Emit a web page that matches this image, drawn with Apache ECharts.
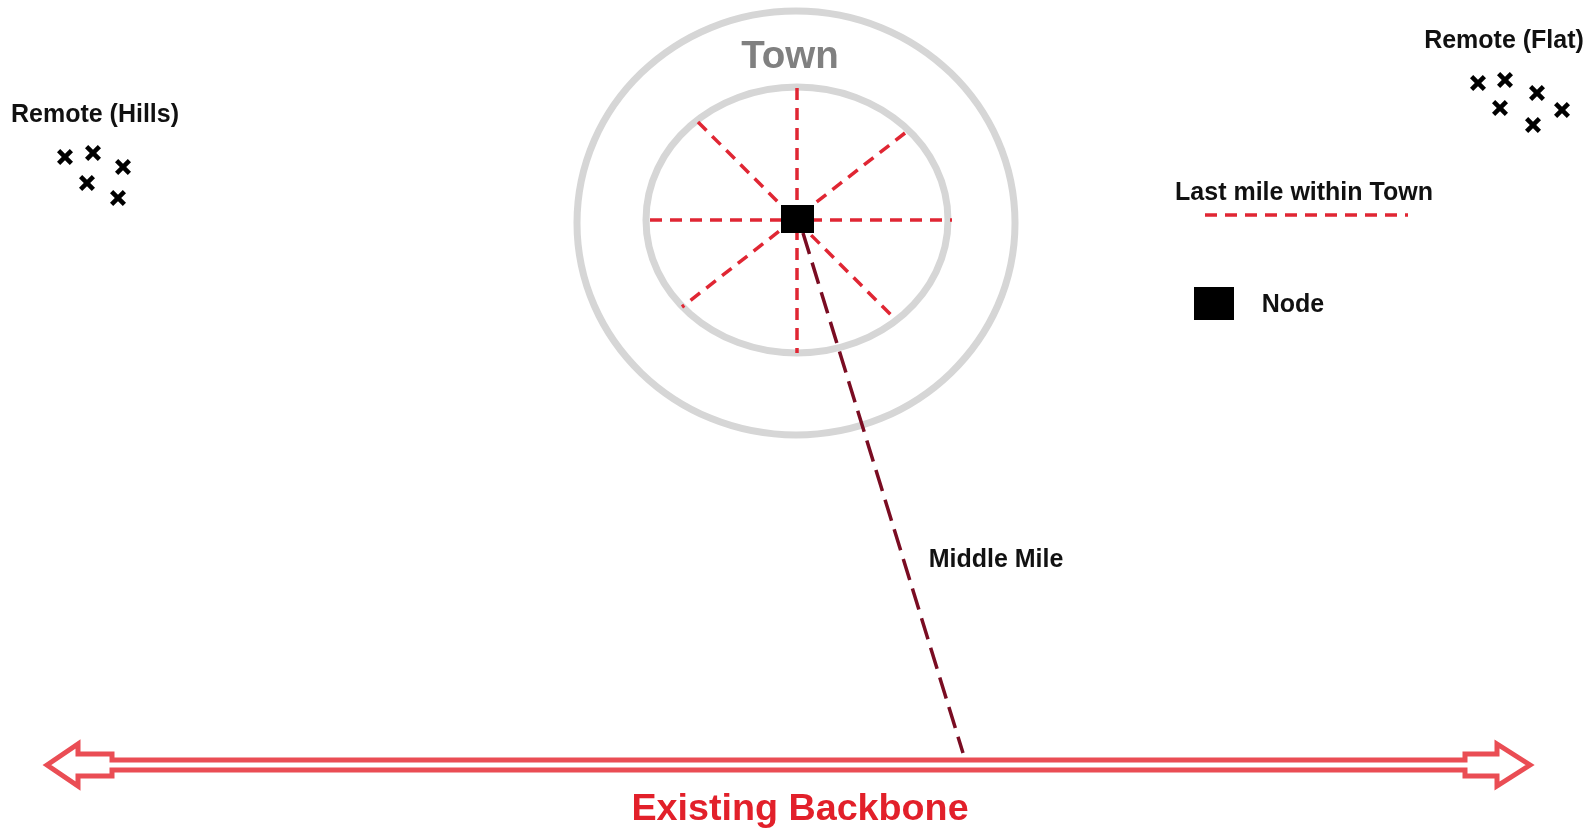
<!DOCTYPE html>
<html><head><meta charset="utf-8">
<script src="https://cdn.jsdelivr.net/npm/echarts@6/dist/echarts.min.js"></script>
<style>html,body{margin:0;padding:0;background:#fff}#c{width:1595px;height:829px}</style>
</head><body><div id="c"></div>
<script>
// Diagram data in a pixel-like data space (x: 0..1595, y: 0..829 downward)
const rings = [[796, 223, 219, 212], [797, 220, 151, 133]];          // cx, cy, rx, ry
const spokes = [[797, 88, 797, 353], [650, 220, 952, 220], [698, 122, 893, 317], [905, 133, 682, 307]];
const middleMile = [[803, 233, 963, 753]];
const legendLastMile = [[1205, 215, 1408, 215]];
const townNode = [[797.5, 219]];
const legendNode = [[1214, 303.5]];
const hillsSites = [[65, 157], [93, 153], [123, 167], [87, 183], [118, 198]];
const flatSites = [[1478, 83], [1505, 80], [1537, 93], [1500, 108], [1562, 110], [1533, 125]];
const backbone = [
  [47, 765], [78, 744], [78, 754], [112, 754], [112, 760],
  [1465, 760], [1465, 754], [1497, 754], [1497, 744], [1530, 765],
  [1497, 786], [1497, 776], [1465, 776], [1465, 770],
  [112, 770], [112, 776], [78, 776], [78, 786]
];
const blackLabels = [
  ['Remote (Hills)', 95, 115],
  ['Remote (Flat)', 1504, 41],
  ['Last mile within Town', 1304, 193],
  ['Node', 1293, 305],
  ['Middle Mile', 996, 560]
];
const townLabel = [['Town', 790, 57]];
const backboneLabel = [['Existing Backbone', 800, 810]];

const FONT = '"Liberation Sans", Arial, sans-serif';
const crossPath = 'path://M2,0L5,3L8,0L10,2L7,5L10,8L8,10L5,7L2,10L0,8L3,5L0,2Z';

function segSeries(data, color, width, dash) {
  return {
    type: 'custom', silent: true, clip: false, data: data,
    renderItem: function (params, api) {
      const a = api.coord([api.value(0), api.value(1)]);
      const b = api.coord([api.value(2), api.value(3)]);
      return { type: 'line', shape: { x1: a[0], y1: a[1], x2: b[0], y2: b[1] },
        style: { stroke: color, lineWidth: width, lineDash: dash, fill: null } };
    }
  };
}
function textSeries(items, size, color) {
  return {
    type: 'custom', silent: true, clip: false,
    data: items.map(function (t, i) { return [t[1], t[2], i]; }),
    renderItem: function (params, api) {
      const p = api.coord([api.value(0), api.value(1)]);
      return { type: 'text', x: p[0], y: p[1],
        style: { text: items[params.dataIndex][0], font: 'bold ' + size + 'px ' + FONT,
          fill: color, align: 'center', verticalAlign: 'middle' } };
    }
  };
}

const chart = echarts.init(document.getElementById('c'), null, { renderer: 'canvas' });
chart.setOption({
  animation: false,
  backgroundColor: '#ffffff',
  grid: { left: 0, right: 0, top: 0, bottom: 0 },
  xAxis: { type: 'value', min: 0, max: 1595, show: false },
  yAxis: { type: 'value', min: 0, max: 829, inverse: true, show: false },
  series: [
    {
      type: 'custom', silent: true, clip: false, data: rings,
      renderItem: function (params, api) {
        const c = api.coord([api.value(0), api.value(1)]);
        const s = api.size([api.value(2), api.value(3)]);
        return { type: 'ellipse', shape: { cx: c[0], cy: c[1], rx: s[0], ry: s[1] },
          style: { stroke: '#d6d6d6', lineWidth: 7, fill: null } };
      }
    },
    segSeries(spokes, '#e02633', 3.5, [12, 8]),
    segSeries(middleMile, '#7a0c22', 3.5, [22, 9]),
    segSeries(legendLastMile, '#e02633', 3.5, [12, 8]),
    {
      type: 'custom', silent: true, clip: false, data: [0],
      renderItem: function (params, api) {
        const pts = backbone.map(function (p) { return api.coord(p); });
        return { type: 'polygon', shape: { points: pts },
          style: { stroke: '#ea4d54', lineWidth: 5, fill: '#ffffff', lineJoin: 'miter' } };
      }
    },
    { type: 'scatter', silent: true, data: townNode, symbol: 'rect', symbolSize: [33, 28],
      itemStyle: { color: '#000', opacity: 1 } },
    { type: 'scatter', silent: true, data: legendNode, symbol: 'rect', symbolSize: [40, 33],
      itemStyle: { color: '#000', opacity: 1 } },
    { type: 'scatter', silent: true, data: hillsSites, symbol: crossPath, symbolSize: 16,
      itemStyle: { color: '#000', opacity: 1 } },
    { type: 'scatter', silent: true, data: flatSites, symbol: crossPath, symbolSize: 16,
      itemStyle: { color: '#000', opacity: 1 } },
    textSeries(blackLabels, 25, '#111111'),
    textSeries(townLabel, 38.5, '#808080'),
    textSeries(backboneLabel, 37.7, '#e2202a')
  ]
});
</script>
</body></html>
